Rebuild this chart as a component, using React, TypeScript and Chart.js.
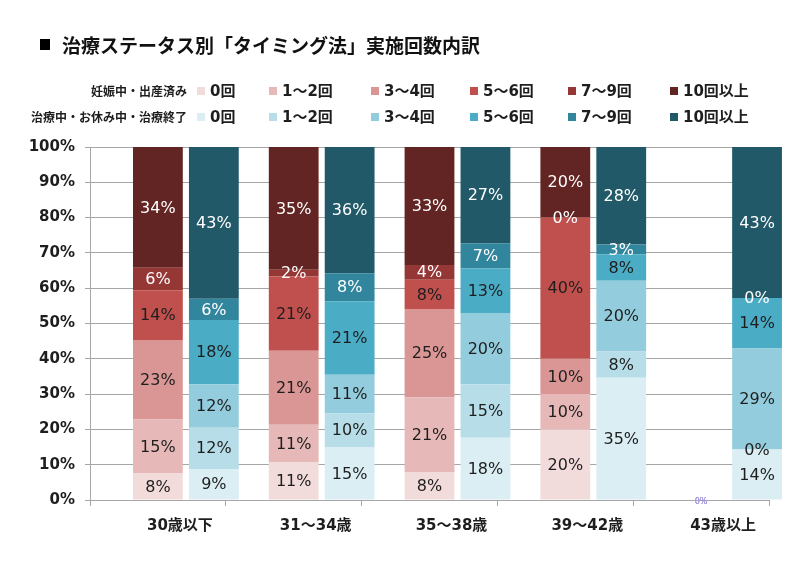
import React, { useEffect, useRef } from "react";
import { Chart, registerables } from "chart.js";

Chart.register(...registerables);

// ---- data ----
const categories = ["30歳以下", "31～34歳", "35～38歳", "39～42歳", "43歳以上"];
const countLabels = ["0回", "1～2回", "3～4回", "5～6回", "7～9回", "10回以上"];
const groupNames = ["妊娠中・出産済み", "治療中・お休み中・治療終了"];
const titleText = "治療ステータス別「タイミング法」実施回数内訳";
const yTickValues = [0, 10, 20, 30, 40, 50, 60, 70, 80, 90, 100];

// 妊娠中・出産済み (%)
const preg0 = [7.5, 10.6, 7.9, 20, 0];
const preg12 = [15.3, 10.7, 21.2, 10, 0];
const preg34 = [22.5, 21.0, 25.0, 10, 0];
const preg56 = [14.1, 21.0, 8.3, 40, 0];
const preg79 = [6.4, 1.9, 4.2, 0, 0];
const preg10 = [34.2, 34.8, 33.4, 20, 0];

// 治療中・お休み中・治療終了 (%)
const treat0 = [8.8, 14.9, 17.6, 34.6, 14.3];
const treat12 = [11.7, 9.7, 15.2, 7.5, 0];
const treat34 = [12.3, 10.9, 20.2, 20.0, 28.6];
const treat56 = [18.2, 20.8, 12.6, 7.5, 14.3];
const treat79 = [6.0, 7.9, 7.1, 2.8, 0];
const treat10 = [43.0, 35.8, 27.3, 27.6, 42.8];

// empty slot that places the two stacks like the original layout
const spacer = [0, 0, 0, 0, 0];

const pregSeries = [preg0, preg12, preg34, preg56, preg79, preg10];
const treatSeries = [treat0, treat12, treat34, treat56, treat79, treat10];

const pregColors = ["#F2DCDB", "#E6B9B8", "#D99694", "#C0504D", "#953735", "#632523"];
const treatColors = ["#DBEEF4", "#B7DEE8", "#93CDDD", "#4BACC6", "#31859C", "#215968"];
const labelColors = ["#1e1e1e", "#1e1e1e", "#1e1e1e", "#1e1e1e", "#ffffff", "#ffffff"];

const NUM_FONT = '"DejaVu Sans", "Noto Sans CJK JP", sans-serif';
const JP_FONT = '"Noto Sans CJK JP", "DejaVu Sans", sans-serif';
const MIX_FONT = '"DejaVu Sans", "Noto Sans CJK JP", sans-serif';

const segLabels = {
  id: "segLabels",
  afterDatasetsDraw(chart: any) {
    const ctx = chart.ctx;
    ctx.save();
    ctx.textAlign = "center";
    ctx.textBaseline = "middle";
    chart.data.datasets.forEach((ds: any, di: number) => {
      if (ds.stack === "spacer") return;
      const meta = chart.getDatasetMeta(di);
      const group = ds.stack === "preg" ? pregSeries : treatSeries;
      meta.data.forEach((el: any, i: number) => {
        const v = ds.data[i];
        if (v == null) return;
        const total = group.reduce((s: number, arr: number[]) => s + arr[i], 0);
        const p = el.getProps(["x", "y", "base"], true);
        const cy = (p.y + p.base) / 2;
        if (total === 0) {
          ctx.font = '8px ' + NUM_FONT;
          ctx.fillStyle = "rgba(170,155,225,0.55)";
          ctx.fillText(Math.round(v) + "%", p.x, cy + 2);
        } else {
          ctx.font = '16px ' + NUM_FONT;
          ctx.fillStyle = ds.labelColor;
          ctx.fillText(Math.round(v) + "%", p.x, cy + 1);
        }
      });
    });
    ctx.restore();
  },
};

function ChartCanvas() {
  const ref = useRef<HTMLCanvasElement | null>(null);
  useEffect(() => {
    if (!ref.current) return;
    const datasets: any[] = [
      {
        label: "",
        data: spacer,
        stack: "spacer",
        backgroundColor: "rgba(0,0,0,0)",
      },
    ];
    pregSeries.forEach((arr, k) => {
      datasets.push({
        label: groupNames[0] + " " + countLabels[k],
        data: arr,
        stack: "preg",
        backgroundColor: pregColors[k],
        labelColor: labelColors[k],
        borderWidth: 0,
        clip: false,
      });
    });
    treatSeries.forEach((arr, k) => {
      datasets.push({
        label: groupNames[1] + " " + countLabels[k],
        data: arr,
        stack: "treat",
        backgroundColor: treatColors[k],
        labelColor: labelColors[k],
        borderWidth: 0,
        clip: false,
      });
    });

    const chart = new Chart(ref.current, {
      type: "bar",
      data: { labels: categories, datasets },
      options: {
        responsive: false,
        animation: false,
        devicePixelRatio: 1,
        categoryPercentage: 1.236,
        barPercentage: 0.89,
        layout: { padding: { left: 0, top: 147, right: 26, bottom: 0 } },
        plugins: {
          legend: { display: false },
          tooltip: { enabled: false },
          title: { display: false },
        },
        scales: {
          x: {
            stacked: true,
            offset: true,
            afterFit: (s: any) => {
              s.height = 66;
            },
            grid: {
              offset: true,
              drawOnChartArea: false,
              drawTicks: true,
              tickLength: 6,
              color: "#A6A6A6",
            },
            border: { display: true, color: "#A6A6A6" },
            ticks: {
              labelOffset: 22,
              padding: 11,
              color: "#1e1e1e",
              font: { family: MIX_FONT, size: 15, weight: "bold" },
            },
          },
          y: {
            stacked: true,
            min: 0,
            max: 100,
            afterFit: (s: any) => {
              s.width = 90;
            },
            afterBuildTicks: (s: any) => {
              s.ticks = yTickValues.map((v) => ({ value: v }));
            },
            grid: {
              color: "#A6A6A6",
              drawTicks: true,
              tickLength: 5,
            },
            border: { display: true, color: "#A6A6A6" },
            ticks: {
              padding: 10,
              color: "#1e1e1e",
              font: { family: NUM_FONT, size: 15, weight: "bold" },
              callback: (v: any) => v + "%",
            },
          },
        },
      },
      plugins: [segLabels],
    } as any);
    return () => chart.destroy();
  }, []);
  return <canvas ref={ref} width={795} height={566} style={{ position: "absolute", left: 0, top: 0 }} />;
}

const legendBoxX = [197, 269, 371, 470, 568, 670];

function LegendRow({ top, name, colors }: { top: number; name: string; colors: string[] }) {
  return (
    <>
      <div
        style={{
          position: "absolute",
          right: 795 - 187,
          top: top - 10,
          height: 20,
          lineHeight: "20px",
          fontFamily: JP_FONT,
          fontWeight: "bold",
          fontSize: 12,
          color: "#1e1e1e",
          whiteSpace: "nowrap",
        }}
      >
        {name}
      </div>
      {countLabels.map((c, k) => (
        <React.Fragment key={k}>
          <div
            style={{
              position: "absolute",
              left: legendBoxX[k],
              top: top - 4,
              width: 8,
              height: 8,
              background: colors[k],
            }}
          />
          <div
            style={{
              position: "absolute",
              left: legendBoxX[k] + 13,
              top: top - 10,
              height: 20,
              lineHeight: "20px",
              fontFamily: MIX_FONT,
              fontWeight: "bold",
              fontSize: 15,
              color: "#1e1e1e",
              whiteSpace: "nowrap",
            }}
          >
            {c}
          </div>
        </React.Fragment>
      ))}
    </>
  );
}

export default function App() {
  return (
    <div
      style={{
        position: "fixed",
        left: 0,
        top: 0,
        width: 795,
        height: 566,
        background: "#ffffff",
        overflow: "hidden",
      }}
    >
      <ChartCanvas />
      <div
        style={{
          position: "absolute",
          left: 40,
          top: 39,
          width: 10,
          height: 11,
          background: "#000",
        }}
      />
      <div
        style={{
          position: "absolute",
          left: 62,
          top: 30,
          height: 30,
          lineHeight: "30px",
          fontFamily: JP_FONT,
          fontWeight: "bold",
          fontSize: 19,
          color: "#111",
          whiteSpace: "nowrap",
        }}
      >
        {titleText}
      </div>
      <LegendRow top={91} name={groupNames[0]} colors={pregColors} />
      <LegendRow top={117} name={groupNames[1]} colors={treatColors} />
    </div>
  );
}
